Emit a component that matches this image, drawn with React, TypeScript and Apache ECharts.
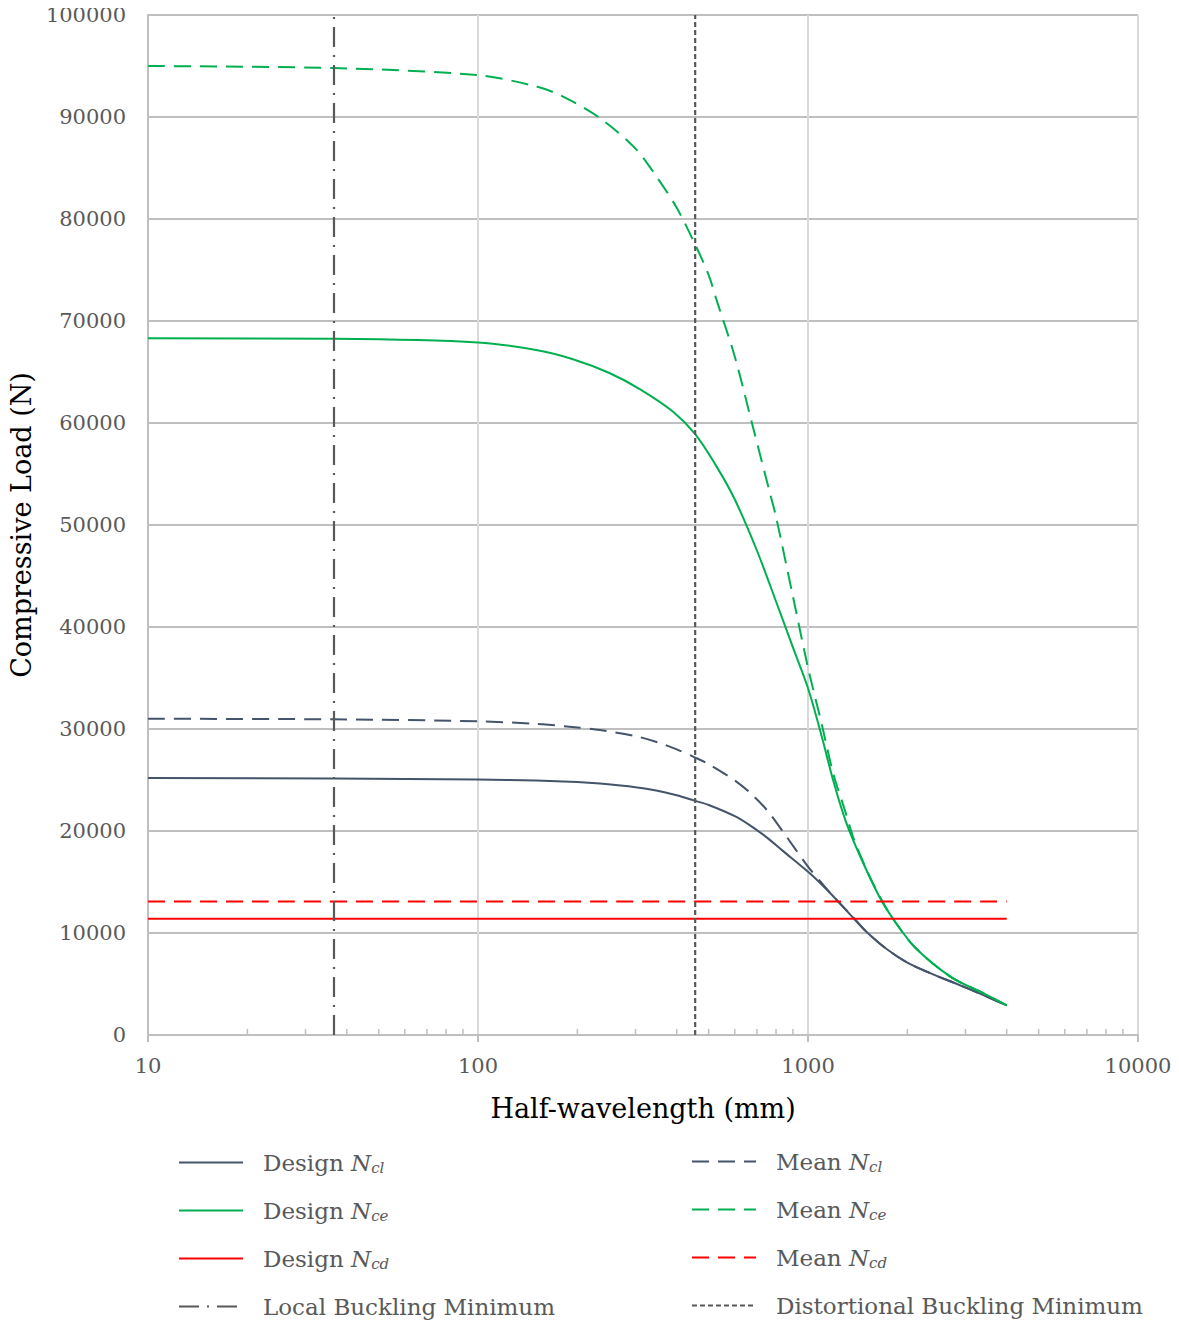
import React, { useEffect, useRef } from "react";
import * as echarts from "echarts";

const FONT = "DejaVu Serif";

// x values (half-wavelength, mm) for the curves
const xCl = [10, 36.6, 100, 150, 200, 234, 300, 350, 400, 455, 500, 600, 667, 751, 839, 1000, 1100, 1200, 1370, 1500, 1735, 2000, 2393, 3034, 4000];
const designNcl = [25200, 25150, 25050, 24950, 24800, 24650, 24300, 23950, 23500, 22950, 22550, 21450, 20550, 19350, 18050, 16000, 14750, 13500, 11500, 10150, 8400, 7100, 5950, 4600, 2900];
const meanNcl = [31000, 30950, 30750, 30500, 30150, 29900, 29300, 28700, 28000, 27200, 26550, 24950, 23750, 22050, 19950, 16500, 14900, 13500, 11550, 10150, 8400, 7100, 5950, 4600, 2900];

const xCeDesign = [10, 36.6, 100, 150, 194, 250, 310, 390, 455, 529, 600, 700, 800, 900, 1000, 1100, 1191, 1300, 1440, 1648, 1800, 2107, 2707, 3396, 4000];
const designNce = [68300, 68250, 67900, 67150, 66250, 64900, 63300, 61100, 58900, 55700, 52500, 47500, 42500, 38000, 34000, 29300, 25000, 21000, 17500, 13500, 11500, 8600, 5700, 4100, 2900];

const xCeMean = [10, 36.6, 100, 150, 181, 234, 300, 350, 400, 455, 500, 529, 600, 681, 767, 800, 900, 1000, 1100, 1191, 1300, 1370, 1500, 1648, 1800, 2107, 2707, 3396, 4000];
const meanNce = [95000, 94800, 94100, 93000, 92000, 89900, 86900, 84000, 81100, 77500, 74500, 72000, 66500, 59600, 53100, 50800, 43000, 36000, 30500, 25700, 21800, 19400, 16300, 13600, 11500, 8600, 5700, 4100, 2900];

const xCd = [10, 4000];
const designNcd = [11400, 11400];
const meanNcd = [13100, 13100];

const localMin = 36.6;
const distortionalMin = 455;

const yRange = [0, 100000];
const minorTicks = [20, 30, 40, 50, 60, 70, 80, 90, 200, 300, 400, 500, 600, 700, 800, 900, 2000, 3000, 4000, 5000, 6000, 7000, 8000, 9000];

const zip = (xs: number[], ys: number[]) => xs.map((x, i) => [x, ys[i]]);

const SLATE = "#44546a";
const GREEN = "#00b050";
const RED = "#ff0000";
const GREY = "#595959";

const legendLabel: Record<string, string> = {
  "Design Ncl": "{t|Design }{n|N}{s|cl}",
  "Design Nce": "{t|Design }{n|N}{s|ce}",
  "Design Ncd": "{t|Design }{n|N}{s|cd}",
  "Mean Ncl": "{t|Mean }{n|N}{s|cl}",
  "Mean Nce": "{t|Mean }{n|N}{s|ce}",
  "Mean Ncd": "{t|Mean }{n|N}{s|cd}",
  "Local Buckling Minimum": "{t|Local Buckling Minimum}",
  "Distortional Buckling Minimum": "{t|Distortional Buckling Minimum}",
};

const rich = {
  t: { fontFamily: FONT, fontSize: 23, color: GREY },
  n: { fontFamily: FONT, fontSize: 23, color: GREY, fontStyle: "italic" },
  s: { fontFamily: FONT, fontSize: 15, color: GREY, fontStyle: "italic", padding: [10, 0, 0, 0] },
};

export default function App() {
  const ref = useRef<HTMLDivElement>(null);
  useEffect(() => {
    if (!ref.current) return;
    const chart = echarts.init(ref.current, null, { renderer: "svg" });
    const line = (name: string, data: number[][], color: string, type: any, width = 2) => ({
      name,
      type: "line",
      data,
      showSymbol: false,
      symbol: "none",
      smooth: 0.3,
      lineStyle: { color, width, type },
      itemStyle: { color },
      z: 3,
    });
    const legendBase = {
      orient: "vertical",
      itemWidth: 64,
      itemHeight: 14,
      itemGap: 24,
      height: 300,
      itemStyle: { opacity: 0 },
      formatter: (n: string) => legendLabel[n] ?? n,
      textStyle: { rich, padding: [0, 0, 0, 15] },
    };
    chart.setOption({
      animation: false,
      textStyle: { fontFamily: FONT },
      grid: { left: 148, right: 41, top: 15, bottom: 287 },
      legend: [
        { ...legendBase, left: 173, top: 1146, data: ["Design Ncl", "Design Nce", "Design Ncd", "Local Buckling Minimum"] },
        { ...legendBase, left: 686, top: 1145, data: ["Mean Ncl", "Mean Nce", "Mean Ncd", "Distortional Buckling Minimum"] },
      ],
      xAxis: {
        type: "log",
        logBase: 10,
        min: 10,
        max: 10000,
        name: "Half-wavelength (mm)",
        nameLocation: "middle",
        nameGap: 60,
        nameTextStyle: { fontFamily: FONT, fontSize: 27, color: "#000" },
        axisLine: { lineStyle: { color: "#bfbfbf", width: 2 } },
        axisTick: { show: true, length: 7, lineStyle: { color: "#bfbfbf", width: 2 } },
        axisLabel: { fontFamily: FONT, fontSize: 21, color: GREY, margin: 20, formatter: (v: number) => String(v) },
        splitLine: { show: true, lineStyle: { color: "#d9d9d9", width: 2 } },
        minorTick: { show: false },
      },
      yAxis: {
        type: "value",
        min: yRange[0],
        max: yRange[1],
        interval: 10000,
        name: "Compressive Load (N)",
        nameLocation: "middle",
        nameGap: 105,
        nameTextStyle: { fontFamily: FONT, fontSize: 27, color: "#000" },
        axisLine: { show: true, lineStyle: { color: "#bfbfbf", width: 2 } },
        axisTick: { show: false },
        axisLabel: { fontFamily: FONT, fontSize: 21, color: GREY, margin: 22, formatter: (v: number) => String(v) },
        splitLine: { show: true, lineStyle: { color: "#bfbfbf", width: 2 } },
      },
      series: [
        {
          name: "minor",
          type: "custom",
          silent: true,
          z: 1,
          data: minorTicks.map((v) => [v, 0]),
          renderItem: (params: any, api: any) => {
            const p = api.coord([api.value(0), 0]);
            return {
              type: "line",
              shape: { x1: p[0], y1: p[1], x2: p[0], y2: p[1] - 6 },
              style: { stroke: "#bfbfbf", lineWidth: 1.5 },
            };
          },
        },
        line("Design Ncl", zip(xCl, designNcl), SLATE, "solid"),
        line("Mean Ncl", zip(xCl, meanNcl), SLATE, [17, 9]),
        line("Design Nce", zip(xCeDesign, designNce), GREEN, "solid"),
        line("Mean Nce", zip(xCeMean, meanNce), GREEN, [17, 9]),
        line("Design Ncd", zip(xCd, designNcd), RED, "solid"),
        line("Mean Ncd", zip(xCd, meanNcd), RED, [17, 9]),
        {
          ...line("Local Buckling Minimum", [[localMin, yRange[0]], [localMin, yRange[1]]], GREY, [20, 8, 2, 8], 2.2),
          smooth: false,
          z: 4,
        },
        {
          ...line("Distortional Buckling Minimum", [[distortionalMin, yRange[0]], [distortionalMin, yRange[1]]], GREY, [5, 3], 2.2),
          smooth: false,
          z: 4,
        },
      ],
    });
    return () => chart.dispose();
  }, []);
  return <div ref={ref} style={{ width: 1179, height: 1322, marginLeft: -8, marginTop: -8 }} />;
}
